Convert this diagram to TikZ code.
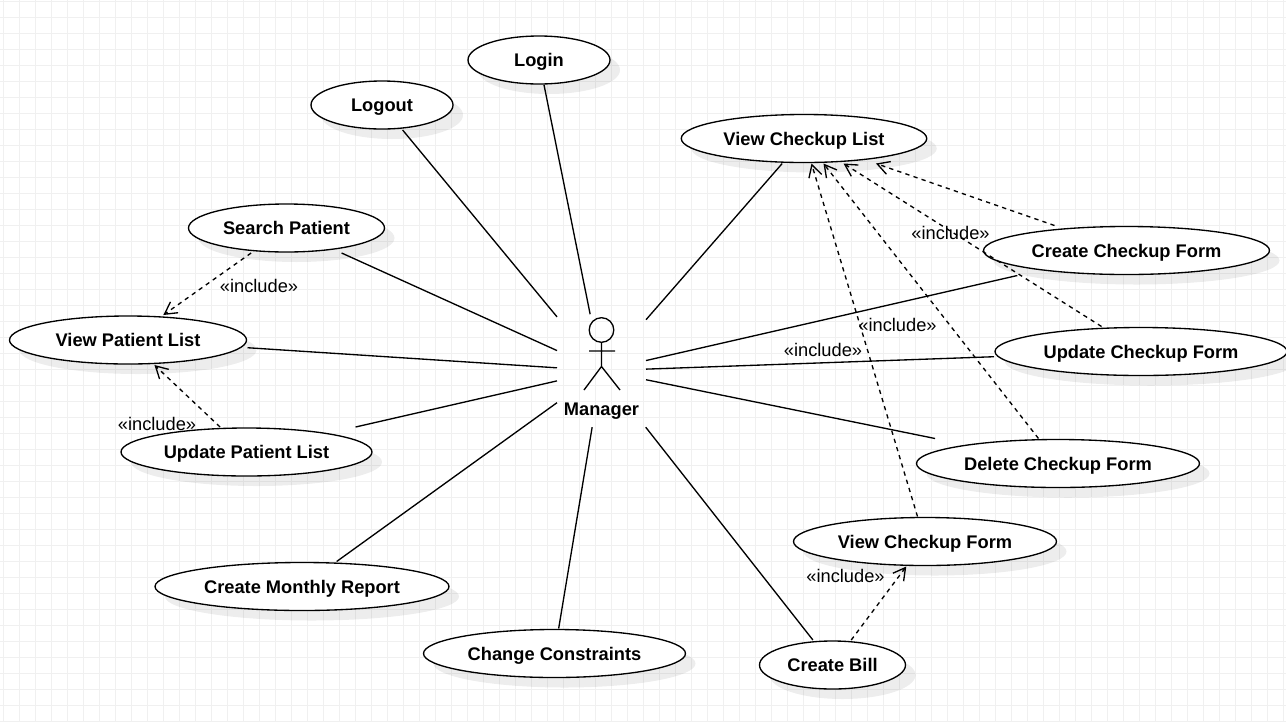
\documentclass[tikz,border=0pt]{standalone}
\usepackage{fontspec}
\setmainfont{Liberation Sans}
\usetikzlibrary{arrows.meta,shapes.geometric,shadows,fit}
\definecolor{gridc}{HTML}{F0F0F0}
\tikzset{
  gridline/.style={draw=gridc,line width=0.75pt},
  labeltext/.style={text height=12pt,text depth=2.2pt},
  usecase/.style={ellipse,draw=black,fill=white,line width=1pt,inner sep=0pt,outer sep=0pt,
    minimum height=36pt,minimum width=#1*1.5pt,labeltext,
    font=\fontsize{13.7pt}{16pt}\selectfont\bfseries,
    general shadow={shadow xshift=7.5pt,shadow yshift=-7.5pt,fill=black,opacity=0.07}},
  hit/.style={rectangle,inner sep=0.75pt,outer sep=0pt},
  assoc/.style={draw=black,line width=1pt},
  incl/.style={draw=black,line width=1pt,dash pattern=on 3.2pt off 3.2pt,
    -{Straight Barb[length=9pt,width=10pt,line width=1pt]}},
  incllabel/.style={font=\fontsize{13.7pt}{16pt}\selectfont,inner sep=0pt},
  actorline/.style={draw=black,line width=1pt},
}
\begin{document}
\begin{tikzpicture}[x=0.75pt,y=-0.75pt]
\useasboundingbox (0,0) rectangle (1286,722);
\fill[white] (0,0) rectangle (1286,722);
\foreach \i in {0,...,80} {\draw[gridline] ({3+16*\i},0) -- ({3+16*\i},722);}
\foreach \i in {0,...,45} {\draw[gridline] (0,{1+16*\i}) -- (1286,{1+16*\i});}

% use cases
\node[usecase=71] (login) at (539,60) {Login};
\node[usecase=71] (logout) at (382,105) {Logout};
\node[usecase=122.75] (viewlist) at (804,138.5) {View Checkup List};
\node[usecase=98] (search) at (286.5,228) {Search Patient};
\node[usecase=143] (createform) at (1126.5,250.5) {Create Checkup Form};
\node[usecase=146] (updateform) at (1141,351.5) {Update Checkup Form};
\node[usecase=118.5] (viewpat) at (128,340) {View Patient List};
\node[usecase=125.5] (updatepat) at (246.5,452) {Update Patient List};
\node[usecase=141.5] (deleteform) at (1058,463.5) {Delete Checkup Form};
\node[usecase=131.5] (viewform) at (925,541.5) {View Checkup Form};
\node[usecase=147] (report) at (302,586.5) {Create Monthly Report};
\node[usecase=131] (constraints) at (554.5,653.5) {Change Constraints};
\node[usecase=73] (bill) at (832.5,665) {Create Bill};

% rectangles that the connectors stop at
\node[hit,fit=(login)] (loginB) {};
\node[hit,fit=(logout)] (logoutB) {};
\node[hit,fit=(viewlist)] (viewlistB) {};
\node[hit,fit=(search)] (searchB) {};
\node[hit,fit=(createform)] (createformB) {};
\node[hit,fit=(updateform)] (updateformB) {};
\node[hit,fit=(viewpat)] (viewpatB) {};
\node[hit,fit=(updatepat)] (updatepatB) {};
\node[hit,fit=(deleteform)] (deleteformB) {};
\node[hit,fit=(viewform)] (viewformB) {};
\node[hit,fit=(report)] (reportB) {};
\node[hit,fit=(constraints)] (constraintsB) {};
\node[hit,fit=(bill)] (billB) {};

% actor
\node[rectangle,inner sep=0pt,outer sep=0pt,minimum width=66.75pt,minimum height=84.75pt] (manager) at (601.5,370.7) {};
\draw[actorline] (601.5,330) circle[radius=12.3];
\draw[actorline] (601.5,342.5) -- (601.5,366.5) (589,351) -- (615,351)
  (584,390) -- (601.5,366.5) -- (620,390);
\node[font=\fontsize{13.7pt}{16pt}\selectfont\bfseries,inner sep=0pt,labeltext] (managerlabel) at (601.5,409) {Manager};

% associations
\foreach \u in {loginB,logoutB,viewlistB,searchB,createformB,updateformB,viewpatB,updatepatB,deleteformB,reportB,constraintsB,billB}
  {\draw[assoc] (\u) -- (manager);}

% includes
\draw[incl] (searchB) -- (viewpatB);
\draw[incl] (updatepatB) -- (viewpatB);
\draw[incl] (createformB) -- (viewlistB);
\draw[incl] (updateformB) -- (viewlistB);
\draw[incl] (deleteformB) -- (viewlistB);
\draw[incl] (viewformB) -- (viewlistB);
\draw[incl] (billB) -- (viewformB);

\node[incllabel] (l1) at (259,286) {«include»};
\node[incllabel] (l2) at (157,424) {«include»};
\node[incllabel] (l3) at (950.5,233) {«include»};
\node[incllabel] (l4) at (897.5,325) {«include»};
\node[incllabel] (l5) at (823,350) {«include»};
\node[incllabel] (l6) at (845.5,576) {«include»};
\end{tikzpicture}
\end{document}
